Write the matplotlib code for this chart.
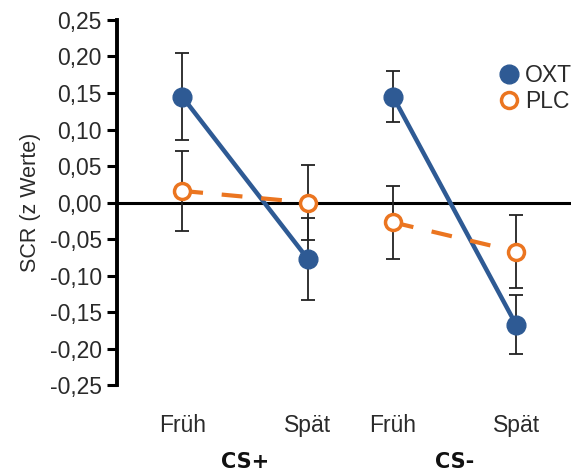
import numpy as np
import matplotlib.pyplot as plt

plt.rcParams['font.family'] = ['Liberation Sans', 'DejaVu Sans']

# data
phases = ['Früh', 'Spät', 'Früh', 'Spät']
groups = ['CS+', 'CS-']
oxt_mean = [0.145, -0.077, 0.145, -0.167]
oxt_err = [0.06, 0.056, 0.035, 0.04]
plc_mean = [0.016, 0.0, -0.027, -0.067]
plc_err = [0.055, 0.051, 0.05, 0.05]

blue = '#2E5A94'
orange = '#EB7520'

xpos = np.array([0, 1, 1.68, 2.66])

fig = plt.figure(figsize=(5.75, 4.75), dpi=100)
ax = fig.add_axes([0.2035, 0.189, 0.79, 0.769])

# zero line
ax.axhline(0, color='black', lw=2.2, zorder=1)

# error bars
ax.errorbar(xpos, oxt_mean, yerr=oxt_err, fmt='none', ecolor='#222222',
            elinewidth=1.3, capsize=5, capthick=1.3, zorder=2)
ax.errorbar(xpos, plc_mean, yerr=plc_err, fmt='none', ecolor='#222222',
            elinewidth=1.3, capsize=5, capthick=1.3, zorder=2)

# lines per CS group
for g in range(2):
    sl = slice(2 * g, 2 * g + 2)
    ax.plot(xpos[sl], oxt_mean[sl], color=blue, lw=3.2, zorder=3)
    ax.plot(xpos[sl], plc_mean[sl], color=orange, lw=3, dashes=(5, 4.5), zorder=4)

ax.plot(xpos, oxt_mean, 'o', color=blue, ms=13.5, zorder=5, label='OXT')
ax.plot(xpos, plc_mean, 'o', mfc='white', mec=orange, mew=2.5, ms=11.5, zorder=6, label='PLC')

ax.set_ylim(-0.25, 0.25)
ax.set_xlim(-0.52, 3.1)
yt = np.arange(-0.25, 0.2501, 0.05)
ax.set_yticks(yt)
ax.set_yticklabels([f'{v:.2f}'.replace('.', ',').replace('-0,00', '0,00') for v in yt],
                   fontsize=16.5, color='#2a2a2a')
ax.tick_params(axis='y', direction='out', length=7, width=2.2, pad=4)
ax.set_xticks([])

for s in ['top', 'right', 'bottom']:
    ax.spines[s].set_visible(False)
ax.spines['left'].set_linewidth(2.8)

ax.set_ylabel('SCR (z Werte)', fontsize=15.5, color='#2a2a2a', labelpad=6)

# category labels
for x, p in zip(xpos, phases):
    ax.text(x, -0.305, p, ha='center', va='center', fontsize=16.5, color='#2a2a2a',
            clip_on=False)
for g, name in enumerate(groups):
    xm = xpos[2 * g:2 * g + 2].mean()
    ax.text(xm, -0.355, name, ha='center', va='center', fontsize=15,
            fontweight='semibold', family='DejaVu Sans', color='#111111', clip_on=False)

leg = ax.legend(loc='upper right', bbox_to_anchor=(1.022, 0.905), frameon=False,
                fontsize=16.5, handletextpad=0.1, labelspacing=0.15,
                handlelength=1.2, borderaxespad=0)
for t in leg.get_texts():
    t.set_color('#2a2a2a')

fig.savefig('out.png', dpi=100)
